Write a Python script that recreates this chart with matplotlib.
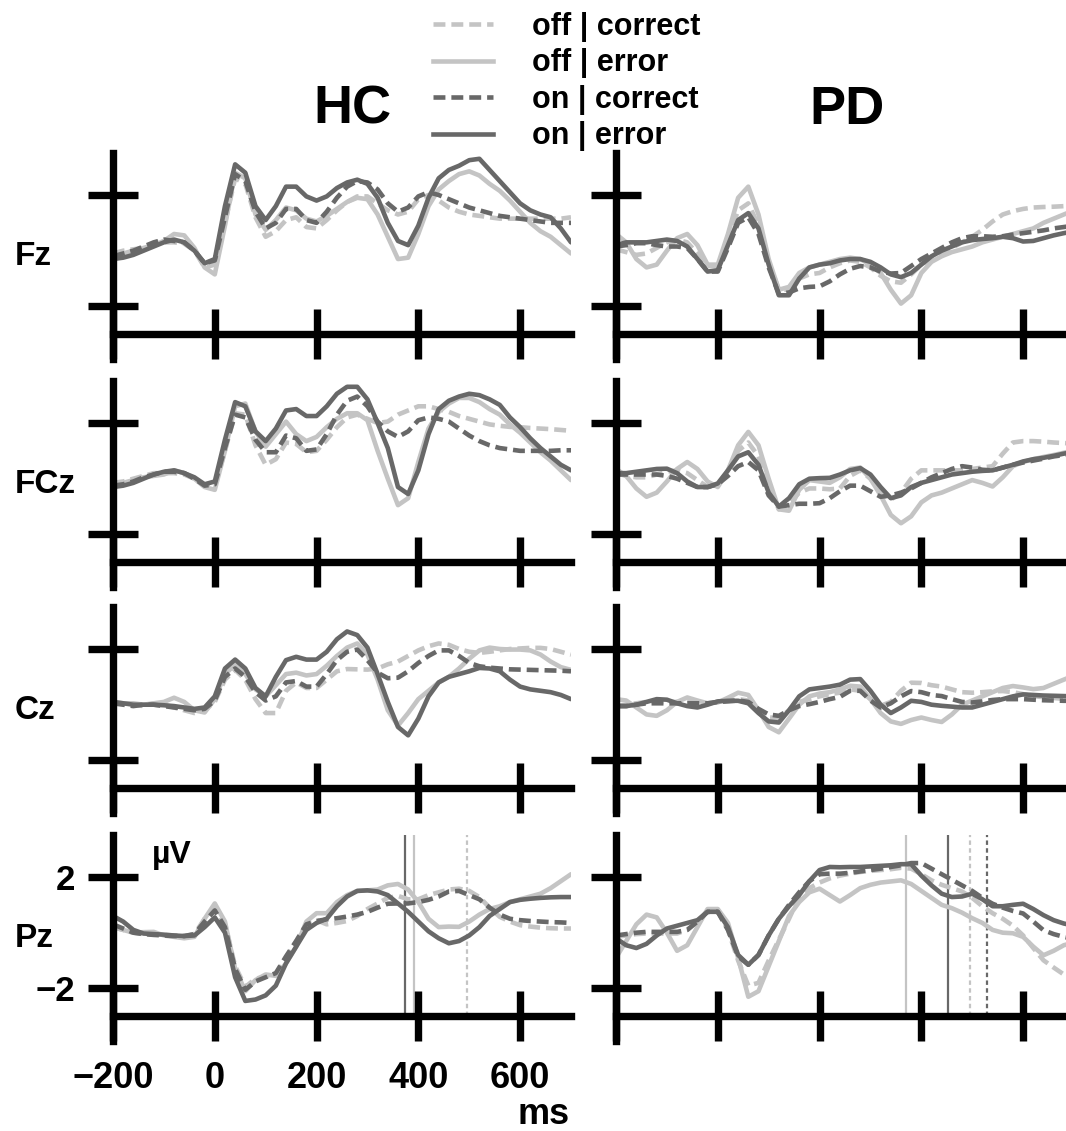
import matplotlib
matplotlib.use("Agg")
import matplotlib.pyplot as plt
from matplotlib.lines import Line2D

plt.rcParams['font.family'] = ['Liberation Sans', 'DejaVu Sans']
plt.rcParams['font.weight'] = 'bold'

# sample times (ms)
times = [-200, -180, -160, -140, -120, -100, -80, -60, -40, -20,
         0, 20, 40, 60, 80, 100, 120, 140, 160, 180,
         200, 220, 240, 260, 280, 300, 320, 340, 360, 380,
         400, 420, 440, 460, 480, 500, 520, 540, 560, 580,
         600, 620, 640, 660, 680, 700]

channels = ['Fz', 'FCz', 'Cz', 'Pz']
groups = ['HC', 'PD']
conditions = ['off | correct', 'off | error', 'on | correct', 'on | error']

# ---- Fz ----
fz_hc_off_cor = [-0.1, 0.0, 0.05, 0.1, 0.25, 0.3, 0.3, 0.25, 0.0, -0.6, -0.5, 1.0, 2.6, 2.4, 1.2, 0.5, 0.7, 1.1, 1.2, 0.85,
                 0.8, 1.1, 1.45, 1.75, 1.95, 1.95, 1.7, 1.45, 1.3, 1.4, 1.85, 2.0, 1.8, 1.55, 1.4, 1.3, 1.25, 1.2, 1.15, 1.15,
                 1.15, 1.15, 1.15, 1.15, 1.15, 1.2]
fz_hc_off_err = [-0.1, -0.1, 0.0, 0.1, 0.2, 0.35, 0.6, 0.55, 0.1, -0.6, -0.85, 0.9, 2.8, 2.6, 1.3, 0.75, 1.1, 1.55, 1.45, 1.15,
                 1.05, 1.25, 1.5, 1.75, 1.9, 1.85, 1.3, 0.5, -0.3, -0.25, 0.6, 1.6, 2.2, 2.5, 2.75, 2.85, 2.7, 2.4, 2.15, 1.8,
                 1.4, 1.0, 0.7, 0.5, 0.2, -0.1]
fz_hc_on_cor = [-0.2, -0.1, 0.0, 0.15, 0.3, 0.4, 0.35, 0.3, 0.0, -0.45, -0.35, 1.2, 2.75, 2.5, 1.4, 0.8, 1.0, 1.5, 1.5, 1.1,
                1.0, 1.4, 1.9, 2.3, 2.5, 2.45, 2.2, 1.7, 1.4, 1.55, 1.95, 2.1, 2.0, 1.85, 1.7, 1.55, 1.45, 1.35, 1.25, 1.2,
                1.15, 1.1, 1.05, 1.0, 1.0, 1.0]
fz_hc_on_err = [-0.3, -0.25, -0.15, 0.0, 0.15, 0.3, 0.4, 0.3, 0.0, -0.45, -0.3, 1.6, 3.1, 2.8, 1.6, 1.1, 1.6, 2.3, 2.3, 1.95,
                1.8, 1.95, 2.25, 2.45, 2.55, 2.4, 1.9, 1.0, 0.35, 0.2, 0.9, 1.9, 2.6, 2.9, 3.05, 3.25, 3.3, 2.9, 2.5, 2.1,
                1.7, 1.45, 1.3, 1.2, 0.8, 0.3]

fz_pd_off_cor = [0.05, -0.05, -0.15, -0.1, 0.1, 0.3, 0.4, 0.3, -0.1, -0.55, -0.55, 0.4, 1.45, 1.7, 0.9, -0.4, -1.4, -1.4, -1.0, -0.85,
                 -0.8, -0.6, -0.45, -0.35, -0.4, -0.6, -0.9, -1.1, -1.15, -0.85, -0.5, -0.3, -0.1, 0.1, 0.3, 0.5, 0.75, 1.05, 1.3, 1.42,
                 1.5, 1.55, 1.57, 1.58, 1.6, 1.6]
fz_pd_off_err = [0.6, 0.3, -0.3, -0.6, -0.5, 0.0, 0.45, 0.6, 0.2, -0.5, -0.5, 0.6, 1.9, 2.3, 1.3, -0.3, -1.4, -1.3, -0.8, -0.6,
                 -0.5, -0.4, -0.3, -0.25, -0.3, -0.5, -0.8, -1.4, -1.9, -1.6, -0.8, -0.4, -0.2, -0.05, 0.05, 0.15, 0.3, 0.4, 0.5, 0.6,
                 0.7, 0.8, 1.0, 1.15, 1.3, 1.45]
fz_pd_on_cor = [0.15, 0.2, 0.27, 0.27, 0.2, 0.15, 0.15, 0.1, -0.3, -0.75, -0.75, 0.1, 1.0, 1.2, 0.6, -0.6, -1.55, -1.5, -1.35, -1.3,
                -1.28, -1.1, -0.85, -0.65, -0.55, -0.6, -0.75, -0.82, -0.8, -0.55, -0.3, -0.1, 0.1, 0.3, 0.45, 0.52, 0.52, 0.5, 0.52, 0.58,
                0.63, 0.68, 0.73, 0.8, 0.85, 0.9]
fz_pd_on_err = [0.2, 0.3, 0.3, 0.3, 0.35, 0.4, 0.35, 0.15, -0.3, -0.75, -0.7, 0.2, 1.1, 1.35, 0.8, -0.5, -1.6, -1.6, -1.0, -0.6,
                -0.5, -0.45, -0.35, -0.3, -0.3, -0.4, -0.6, -0.85, -0.95, -0.8, -0.5, -0.2, 0.0, 0.15, 0.3, 0.38, 0.42, 0.45, 0.5, 0.45,
                0.33, 0.35, 0.45, 0.55, 0.63, 0.7]

# ---- FCz ----
fcz_hc_off_cor = [-0.15, -0.1, 0.0, 0.1, 0.2, 0.2, 0.2, 0.15, 0.0, -0.25, -0.25, 1.0, 2.35, 2.3, 1.2, 0.5, 0.7, 1.3, 1.25, 0.95,
                  1.0, 1.4, 1.85, 2.2, 2.3, 2.15, 2.0, 2.05, 2.3, 2.45, 2.6, 2.6, 2.5, 2.4, 2.25, 2.15, 2.05, 1.95, 1.9, 1.86,
                  1.85, 1.82, 1.8, 1.78, 1.75, 1.72]
fcz_hc_off_err = [-0.2, -0.15, -0.05, 0.05, 0.1, 0.15, 0.3, 0.2, 0.0, -0.3, -0.4, 1.0, 2.6, 2.7, 1.7, 1.15, 1.6, 2.05, 1.6, 1.35,
                  1.5, 1.85, 2.15, 2.35, 2.35, 2.1, 1.0, 0.0, -0.95, -0.7, 0.6, 1.8, 2.4, 2.7, 2.9, 2.9, 2.75, 2.5, 2.3, 1.95,
                  1.65, 1.3, 0.95, 0.65, 0.3, -0.05]
fcz_hc_on_cor = [-0.25, -0.2, -0.1, 0.05, 0.15, 0.25, 0.25, 0.2, 0.0, -0.25, -0.2, 1.1, 2.3, 2.2, 1.4, 0.95, 0.95, 1.55, 1.45, 1.0,
                 1.05, 1.6, 2.3, 2.8, 2.95, 2.6, 2.05, 1.7, 1.5, 1.7, 2.1, 2.2, 2.15, 2.05, 1.8, 1.55, 1.35, 1.2, 1.1, 1.05,
                 1.0, 1.0, 1.0, 1.0, 1.02, 1.02]
fcz_hc_on_err = [-0.3, -0.25, -0.15, 0.0, 0.15, 0.25, 0.3, 0.2, 0.05, -0.2, -0.1, 1.4, 2.75, 2.6, 1.7, 1.35, 1.8, 2.45, 2.5, 2.25,
                 2.25, 2.6, 3.05, 3.3, 3.3, 2.85, 2.0, 1.1, -0.3, -0.55, 0.3, 1.6, 2.5, 2.8, 2.95, 3.05, 3.0, 2.85, 2.65, 2.2,
                 1.85, 1.45, 1.1, 0.8, 0.5, 0.3]

fcz_pd_off_cor = [0.2, 0.1, 0.05, 0.05, 0.15, 0.25, 0.3, 0.2, -0.05, -0.3, -0.25, 0.3, 1.0, 1.3, 0.8, -0.3, -1.1, -0.9, -0.5, -0.35,
                  -0.35, -0.38, -0.35, 0.1, 0.3, 0.0, -0.5, -0.75, -0.5, 0.0, 0.3, 0.3, 0.3, 0.3, 0.3, 0.35, 0.4, 0.45, 0.9, 1.3,
                  1.35, 1.35, 1.33, 1.3, 1.28, 1.26]
fcz_pd_off_err = [0.35, 0.1, -0.35, -0.65, -0.5, -0.1, 0.35, 0.6, 0.35, -0.1, -0.3, 0.3, 1.2, 1.68, 1.2, 0.0, -1.1, -1.15, -0.4, -0.05,
                  -0.1, -0.15, 0.05, 0.35, 0.4, 0.0, -0.6, -1.3, -1.6, -1.35, -0.85, -0.6, -0.5, -0.35, -0.2, -0.05, -0.15, -0.28, 0.05, 0.45,
                  0.6, 0.7, 0.78, 0.85, 0.93, 1.02]
fcz_pd_on_cor = [0.15, 0.15, 0.15, 0.15, 0.15, 0.1, 0.0, -0.15, -0.3, -0.3, -0.2, 0.1, 0.45, 0.6, 0.3, -0.6, -1.0, -0.95, -0.9, -0.9,
                 -0.88, -0.7, -0.45, -0.25, -0.25, -0.45, -0.65, -0.6, -0.5, -0.35, -0.15, 0.05, 0.2, 0.35, 0.45, 0.4, 0.32, 0.3, 0.4, 0.5,
                 0.58, 0.65, 0.72, 0.8, 0.85, 0.9]
fcz_pd_on_err = [0.2, 0.2, 0.25, 0.3, 0.35, 0.36, 0.2, -0.1, -0.3, -0.3, -0.17, 0.3, 0.8, 0.95, 0.5, -0.5, -1.0, -0.7, -0.2, 0.0,
                 0.02, 0.03, 0.15, 0.3, 0.38, 0.15, -0.3, -0.7, -0.6, -0.3, -0.15, -0.05, 0.05, 0.15, 0.2, 0.25, 0.28, 0.3, 0.4, 0.5,
                 0.62, 0.7, 0.75, 0.82, 0.9, 0.96]

# ---- Cz ----
cz_hc_off_cor = [0.1, 0.05, 0.0, -0.05, 0.05, 0.0, -0.1, -0.2, -0.3, -0.2, 0.1, 0.9, 1.25, 0.9, 0.2, -0.3, -0.3, 0.5, 0.8, 0.6,
                 0.6, 0.9, 1.2, 1.28, 1.27, 1.26, 1.3, 1.45, 1.55, 1.75, 1.95, 2.1, 2.2, 2.15, 2.0, 1.9, 1.86, 1.9, 1.95, 2.0,
                 2.02, 2.04, 2.04, 2.0, 1.9, 1.8]
cz_hc_off_err = [0.05, 0.05, 0.05, 0.0, 0.05, 0.1, 0.25, 0.1, -0.2, -0.28, 0.2, 1.1, 1.44, 1.1, 0.55, 0.3, 0.7, 1.1, 1.15, 1.05,
                 1.1, 1.4, 1.75, 2.05, 2.2, 1.8, 0.9, -0.2, -0.75, -0.3, 0.2, 0.5, 0.8, 1.0, 1.3, 1.65, 1.95, 2.05, 2.0, 1.98,
                 1.98, 1.95, 1.8, 1.55, 1.35, 1.25]
cz_hc_on_cor = [0.05, 0.0, -0.05, 0.0, 0.0, -0.05, -0.1, -0.15, -0.2, -0.15, 0.15, 1.0, 1.3, 1.0, 0.45, 0.15, 0.3, 0.8, 0.85, 0.65,
                0.65, 1.1, 1.6, 1.9, 1.98, 1.6, 1.15, 0.95, 0.97, 1.2, 1.5, 1.75, 1.95, 1.95, 1.75, 1.5, 1.38, 1.33, 1.3, 1.27,
                1.26, 1.25, 1.24, 1.23, 1.22, 1.2]
cz_hc_on_err = [0.1, 0.05, 0.0, 0.0, 0.0, -0.02, -0.05, -0.1, -0.15, -0.1, 0.3, 1.3, 1.62, 1.3, 0.6, 0.3, 1.0, 1.6, 1.72, 1.62,
                1.62, 1.9, 2.35, 2.63, 2.5, 2.05, 1.1, 0.1, -0.8, -1.1, -0.5, 0.3, 0.8, 1.0, 1.1, 1.2, 1.32, 1.3, 1.2, 0.9,
                0.65, 0.55, 0.5, 0.45, 0.35, 0.2]

cz_pd_off_cor = [-0.05, 0.0, 0.05, 0.1, 0.1, 0.1, 0.1, 0.1, 0.05, 0.05, 0.1, 0.15, 0.2, 0.15, -0.2, -0.45, -0.5, -0.2, 0.1, 0.2,
                 0.3, 0.38, 0.43, 0.55, 0.5, 0.2, -0.04, 0.1, 0.5, 0.79, 0.78, 0.7, 0.65, 0.55, 0.45, 0.43, 0.45, 0.48, 0.49, 0.45,
                 0.38, 0.31, 0.27, 0.24, 0.21, 0.2]
cz_pd_off_err = [0.2, 0.15, -0.1, -0.35, -0.4, -0.2, 0.1, 0.26, 0.15, 0.05, 0.08, 0.25, 0.43, 0.35, -0.2, -0.8, -0.99, -0.5, 0.0, 0.3,
                 0.4, 0.45, 0.55, 0.68, 0.65, 0.2, -0.3, -0.6, -0.69, -0.55, -0.46, -0.55, -0.62, -0.35, 0.0, 0.15, 0.3, 0.45, 0.6, 0.67,
                 0.62, 0.56, 0.6, 0.75, 0.9, 1.05]
cz_pd_on_cor = [-0.05, -0.05, 0.0, 0.05, 0.05, 0.05, 0.05, 0.05, 0.05, 0.05, 0.1, 0.12, 0.15, 0.1, -0.15, -0.35, -0.4, -0.2, -0.05, 0.02,
                0.1, 0.2, 0.28, 0.5, 0.5, 0.15, -0.1, 0.05, 0.3, 0.49, 0.45, 0.35, 0.31, 0.2, 0.1, 0.08, 0.12, 0.17, 0.2, 0.2,
                0.2, 0.18, 0.16, 0.15, 0.14, 0.14]
cz_pd_on_err = [-0.05, -0.05, 0.0, 0.1, 0.2, 0.18, 0.05, -0.05, -0.1, 0.0, 0.12, 0.14, 0.14, 0.05, -0.3, -0.6, -0.64, -0.2, 0.3, 0.55,
                0.6, 0.65, 0.72, 0.9, 0.92, 0.5, 0.0, -0.3, -0.1, 0.14, 0.1, 0.0, -0.04, -0.07, -0.1, -0.1, 0.0, 0.1, 0.2, 0.3,
                0.37, 0.35, 0.33, 0.32, 0.31, 0.3]

# ---- Pz ----
pz_hc_off_cor = [0.2, 0.1, 0.0, -0.05, -0.05, -0.08, -0.1, -0.12, -0.05, 0.5, 0.85, 0.3, -1.2, -1.95, -1.65, -1.58, -1.5, -0.9, -0.3, 0.3,
                 0.45, 0.3, 0.35, 0.42, 0.6, 0.85, 1.05, 1.25, 1.32, 1.2, 1.2, 1.35, 1.45, 1.55, 1.58, 1.5, 1.28, 0.9, 0.57, 0.4,
                 0.27, 0.22, 0.18, 0.16, 0.15, 0.15]
pz_hc_off_err = [0.2, 0.1, 0.0, 0.02, 0.03, -0.1, -0.15, -0.2, -0.15, 0.5, 1.05, 0.4, -1.3, -2.1, -1.7, -1.5, -1.55, -1.1, -0.5, 0.4,
                 0.7, 0.7, 1.1, 1.35, 1.5, 1.52, 1.55, 1.7, 1.75, 1.55, 1.1, 0.5, 0.2, 0.22, 0.21, 0.4, 0.65, 0.85, 0.95, 1.1,
                 1.2, 1.3, 1.4, 1.6, 1.85, 2.1]
pz_hc_on_cor = [0.3, 0.15, 0.0, -0.05, -0.08, -0.1, -0.12, -0.12, -0.05, 0.4, 0.8, 0.2, -1.3, -2.05, -1.75, -1.6, -1.45, -0.85, -0.3, 0.3,
                0.42, 0.48, 0.52, 0.58, 0.65, 0.75, 0.9, 1.04, 1.05, 1.05, 1.1, 1.18, 1.3, 1.48, 1.5, 1.35, 1.2, 0.9, 0.65, 0.5,
                0.45, 0.42, 0.4, 0.38, 0.37, 0.35]
pz_hc_on_err = [0.6, 0.4, 0.1, -0.03, -0.05, -0.07, -0.1, -0.12, -0.1, 0.2, 0.55, 0.0, -1.6, -2.45, -2.4, -2.25, -1.9, -1.1, -0.5, 0.1,
                0.35, 0.5, 0.95, 1.3, 1.5, 1.52, 1.48, 1.35, 1.05, 0.75, 0.4, 0.05, -0.2, -0.38, -0.3, -0.1, 0.2, 0.6, 0.85, 1.1,
                1.18, 1.22, 1.25, 1.27, 1.28, 1.28]

pz_pd_off_cor = [-0.15, -0.1, -0.05, -0.03, -0.03, -0.03, -0.03, 0.1, 0.4, 0.8, 0.75, 0.1, -1.0, -1.9, -1.8, -1.0, -0.25, 0.5, 1.3, 1.6,
                 1.8, 1.95, 2.05, 2.12, 2.18, 2.22, 2.25, 2.28, 2.33, 2.3, 2.1, 1.88, 1.72, 1.6, 1.48, 1.25, 0.95, 0.7, 0.5, 0.25,
                 -0.1, -0.55, -0.99, -1.25, -1.5, -1.7]
pz_pd_off_err = [-0.9, -0.3, 0.3, 0.65, 0.55, 0.0, -0.65, -0.45, 0.2, 0.85, 0.85, 0.35, -0.9, -2.3, -2.1, -1.2, -0.3, 0.6, 1.1, 1.45,
                 1.58, 1.35, 1.12, 1.35, 1.6, 1.72, 1.8, 1.84, 1.88, 1.75, 1.5, 1.25, 1.0, 0.88, 0.72, 0.52, 0.35, 0.1, 0.0, -0.02,
                 -0.15, -0.5, -0.81, -0.65, -0.45, -0.35]
pz_pd_on_cor = [-0.1, -0.05, 0.0, 0.03, 0.03, 0.03, 0.03, 0.1, 0.4, 0.75, 0.75, 0.1, -0.85, -1.15, -0.8, -0.1, 0.5, 1.0, 1.45, 1.85,
                2.1, 2.12, 2.12, 2.15, 2.2, 2.25, 2.3, 2.36, 2.42, 2.5, 2.5, 2.3, 2.1, 1.9, 1.7, 1.5, 1.25, 1.04, 0.9, 0.78,
                0.69, 0.4, 0.09, -0.05, -0.15, -0.22]
pz_pd_on_err = [-0.2, -0.45, -0.55, -0.4, -0.1, 0.15, 0.25, 0.35, 0.45, 0.75, 0.75, 0.2, -0.8, -1.15, -0.8, -0.1, 0.5, 0.95, 1.35, 1.85,
                2.25, 2.36, 2.35, 2.36, 2.36, 2.38, 2.4, 2.42, 2.46, 2.46, 2.05, 1.7, 1.4, 1.28, 1.3, 1.4, 1.2, 0.95, 0.95, 1.0,
                1.04, 0.85, 0.63, 0.45, 0.33, 0.25]

# latency markers in the Pz row (ms)
hc_latency = {'off | correct': 496, 'off | error': 391, 'on | error': 374}
pd_latency = {'off | correct': 495, 'off | error': 370, 'on | correct': 530, 'on | error': 452}

data = {
    ('Fz', 'HC'): [fz_hc_off_cor, fz_hc_off_err, fz_hc_on_cor, fz_hc_on_err],
    ('Fz', 'PD'): [fz_pd_off_cor, fz_pd_off_err, fz_pd_on_cor, fz_pd_on_err],
    ('FCz', 'HC'): [fcz_hc_off_cor, fcz_hc_off_err, fcz_hc_on_cor, fcz_hc_on_err],
    ('FCz', 'PD'): [fcz_pd_off_cor, fcz_pd_off_err, fcz_pd_on_cor, fcz_pd_on_err],
    ('Cz', 'HC'): [cz_hc_off_cor, cz_hc_off_err, cz_hc_on_cor, cz_hc_on_err],
    ('Cz', 'PD'): [cz_pd_off_cor, cz_pd_off_err, cz_pd_on_cor, cz_pd_on_err],
    ('Pz', 'HC'): [pz_hc_off_cor, pz_hc_off_err, pz_hc_on_cor, pz_hc_on_err],
    ('Pz', 'PD'): [pz_pd_off_cor, pz_pd_off_err, pz_pd_on_cor, pz_pd_on_err],
}
latencies = {'HC': hc_latency, 'PD': pd_latency}

LIGHT = '#c4c4c4'
DARK = '#686868'
styles = {
    'off | correct': dict(color=LIGHT, dashes=(2.6, 1.3)),
    'off | error': dict(color=LIGHT),
    'on | correct': dict(color=DARK, dashes=(2.6, 1.3)),
    'on | error': dict(color=DARK),
}

W, H = 1066, 1131
fig = plt.figure(figsize=(W / 100, H / 100), dpi=100)

col_left = [113, 616]
ax_w = 458
tick2_px = [195, 423, 649, 877]
px_per_uv = 27.85
ax_h = 7.4 * px_per_uv

for r, ch in enumerate(channels):
    top = tick2_px[r] - 1.5 * px_per_uv
    for c, grp in enumerate(groups):
        ax = fig.add_axes([col_left[c] / W, 1 - (top + ax_h) / H, ax_w / W, ax_h / H])
        ax.set_xlim(-200, 700)
        ax.set_ylim(-3.9, 3.5)
        for cond, y in zip(conditions, data[(ch, grp)]):
            ax.plot(times, y, lw=3.3, solid_capstyle='round', solid_joinstyle='round',
                    dash_joinstyle='round', **styles[cond])
        if ch == 'Pz':
            for cond, t in latencies[grp].items():
                ax.vlines(t, -3, 3.5, color=styles[cond]['color'], lw=1.6,
                          linestyles=(0, (2, 1.5)) if 'correct' in cond else '-', zorder=1)
        ax.spines['top'].set_visible(False)
        ax.spines['right'].set_visible(False)
        ax.spines['bottom'].set_position(('data', -3))
        for s in ('left', 'bottom'):
            ax.spines[s].set_linewidth(5.3)
            ax.spines[s].set_color('black')
        ax.set_xticks([-200, 0, 200, 400, 600])
        ax.set_yticks([-2, 2])
        ax.tick_params(direction='inout', length=36, width=5.3, color='black')
        ax.tick_params(axis='x', pad=14, labelsize=26)
        ax.tick_params(axis='y', pad=9, labelsize=25)
        show = (ch == 'Pz' and grp == 'HC')
        ax.tick_params(labelbottom=show, labelleft=show)
        if c == 0:
            ax.text(-393, -0.5, ch, fontsize=24, ha='left', va='baseline', clip_on=False)
        if show:
            ax.text(-123, 2.5, 'µV', fontsize=23, ha='left', va='baseline')
            ax.text(594, -6.86, 'ms', fontsize=26, ha='left', va='baseline', clip_on=False)

fig.text(352 / W, 1 - 124 / H, 'HC', fontsize=39, ha='center', va='baseline')
fig.text(847 / W, 1 - 124 / H, 'PD', fontsize=39, ha='center', va='baseline')

handles = [Line2D([], [], lw=3.3, **styles[cond]) for cond in conditions]
fig.legend(handles, conditions, loc='upper left', bbox_to_anchor=(433 / W, 1 - 12 / H),
           frameon=False, fontsize=22, handlelength=1.96, handletextpad=1.28,
           labelspacing=0.21, borderpad=0, borderaxespad=0)

fig.savefig('out.png', dpi=100)
